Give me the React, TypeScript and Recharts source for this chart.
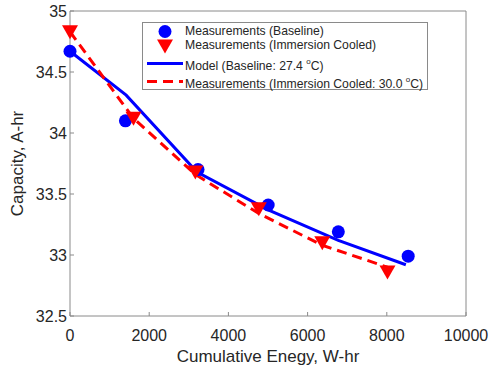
import React from 'react';
import { ComposedChart, Line, Scatter, XAxis, YAxis } from 'recharts';

// values
const baselineX = [0, 1400, 3233, 5005, 6776, 8540];
const baselineY = [34.67, 34.1, 33.7, 33.41, 33.19, 32.99];

const cooledX = [0, 1603, 3165, 4768, 6371, 8017];
const cooledY = [34.83, 34.12, 33.68, 33.38, 33.1, 32.86];

const modelX = [0, 1418, 3207, 5005, 6776, 8481];
const modelY = [34.67, 34.31, 33.68, 33.37, 33.12, 32.92];

const cooledFitX = [0, 1603, 3165, 4768, 6371, 8017];
const cooledFitY = [34.83, 34.12, 33.66, 33.34, 33.08, 32.9];

const xTicks = [0, 2000, 4000, 6000, 8000, 10000];
const yTicks = [32.5, 33, 33.5, 34, 34.5, 35];

const zip = (xs: number[], ys: number[]) => xs.map((x, i) => ({ x, y: ys[i] }));

const baselineData = zip(baselineX, baselineY);
const cooledData = zip(cooledX, cooledY);
const modelData = zip(modelX, modelY);
const cooledFitData = zip(cooledFitX, cooledFitY);

const FONT = '"Liberation Sans", Arial, Helvetica, sans-serif';
const AXIS = '#8a8a8a';
const TEXT = '#262626';

const DownTriangle = (props: any) => {
    const { cx, cy } = props;
    if (cx == null || cy == null) return null;
    return <polygon points={`${cx - 8},${cy - 6.5} ${cx + 8},${cy - 6.5} ${cx},${cy + 7.5}`} fill="#ff0000" />;
};

const Dot = (props: any) => {
    const { cx, cy } = props;
    if (cx == null || cy == null) return null;
    return <circle cx={cx} cy={cy} r={6.5} fill="#0000ff" />;
};

const LegendBox = () => {
    const row: React.CSSProperties = { position: 'absolute', left: 42, whiteSpace: 'nowrap', lineHeight: '14px' };
    return (
        <div style={{ position: 'absolute', left: 142, top: 22, width: 284, height: 66, border: '1px solid #8a8a8a', background: '#fff', fontFamily: FONT, fontSize: 12.2, color: TEXT }}>
            <svg width={42} height={66} style={{ position: 'absolute', left: 0, top: 0 }}>
                <circle cx={22} cy={8.5} r={6.5} fill="#0000ff" />
                <polygon points="14,16.5 30,16.5 22,30.5" fill="#ff0000" />
                <line x1={4} x2={40} y1={40.5} y2={40.5} stroke="#0000ff" strokeWidth={3} />
                <line x1={4} x2={40} y1={58.5} y2={58.5} stroke="#ff0000" strokeWidth={3} strokeDasharray="10 6" />
            </svg>
            <div style={{ ...row, top: 1 }}>Measurements (Baseline)</div>
            <div style={{ ...row, top: 15 }}>Measurements (Immersion Cooled)</div>
            <div style={{ ...row, top: 32 }}>Model (Baseline: 27.4 <sup style={{ fontSize: 8, verticalAlign: '45%' }}>o</sup>C)</div>
            <div style={{ ...row, top: 50 }}>Measurements (Immersion Cooled: 30.0 <sup style={{ fontSize: 8, verticalAlign: '45%' }}>o</sup>C)</div>
        </div>
    );
};

const CapacityChart: React.FC = () => {
    const tickStyle = { fill: TEXT, fontSize: 16, fontFamily: FONT };
    return (
        <ComposedChart width={490} height={371} margin={{ top: 10, right: 23, bottom: 5, left: 10 }}>
            <XAxis
                xAxisId="b"
                dataKey="x"
                type="number"
                domain={[0, 10000]}
                ticks={xTicks}
                stroke={AXIS}
                tickSize={-4}
                tickMargin={18}
                tick={tickStyle}
                height={50}
                label={{ value: 'Cumulative Enegy, W-hr', position: 'insideBottom', offset: 4, fill: TEXT, fontSize: 17, fontFamily: FONT }}
            />
            <XAxis xAxisId="t" orientation="top" dataKey="x" type="number" domain={[0, 10000]} ticks={xTicks} stroke={AXIS} tickSize={-4} tick={false} height={1} />
            <YAxis
                yAxisId="l"
                type="number"
                domain={[32.5, 35]}
                ticks={yTicks}
                stroke={AXIS}
                tickSize={-4}
                tickMargin={7}
                tick={tickStyle}
                width={60}
                label={{ value: 'Capacity, A-hr', angle: -90, position: 'insideLeft', offset: 7, fill: TEXT, fontSize: 17, fontFamily: FONT, style: { textAnchor: 'middle' } }}
            />
            <YAxis yAxisId="r" orientation="right" type="number" domain={[32.5, 35]} ticks={yTicks} stroke={AXIS} tickSize={-4} tick={false} width={1} />
            {/* invisible copy so the top/right box axes get drawn */}
            <Scatter xAxisId="t" yAxisId="r" data={modelData} dataKey="y" shape={() => <g />} isAnimationActive={false} />
            <Scatter xAxisId="b" yAxisId="l" data={baselineData} dataKey="y" shape={<Dot />} isAnimationActive={false} />
            <Scatter xAxisId="b" yAxisId="l" data={cooledData} dataKey="y" shape={<DownTriangle />} isAnimationActive={false} />
            <Line xAxisId="b" yAxisId="l" data={modelData} dataKey="y" type="linear" stroke="#0000ff" strokeWidth={3} dot={false} isAnimationActive={false} />
            <Line xAxisId="b" yAxisId="l" data={cooledFitData} dataKey="y" type="linear" stroke="#ff0000" strokeWidth={3} strokeDasharray="10 6" dot={false} isAnimationActive={false} />
        </ComposedChart>
    );
};

export default function App() {
    return (
        <div style={{ position: 'absolute', left: 0, top: 0, width: 490, height: 371, background: '#fff' }}>
            <CapacityChart />
            <LegendBox />
        </div>
    );
}
